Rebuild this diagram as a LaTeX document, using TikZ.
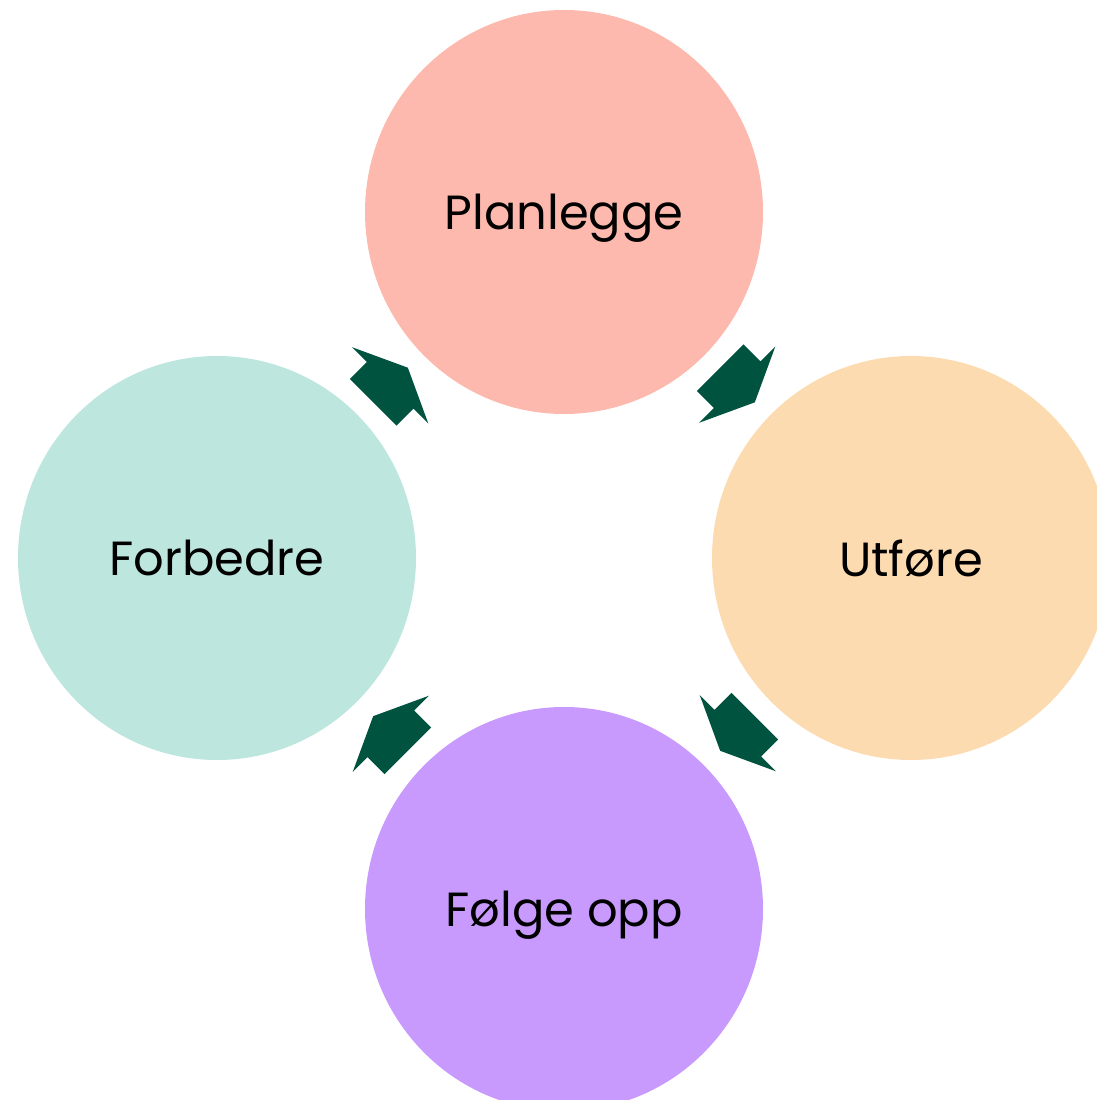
\documentclass[tikz,border=0pt]{standalone}
\usepackage{fontspec}
\setmainfont{Poppins}
\usepackage{tikz}
\usetikzlibrary{shapes.geometric, calc}

\definecolor{planpink}{HTML}{FDB9AD}
\definecolor{doorange}{HTML}{FDDBB0}
\definecolor{checkviolet}{HTML}{C99AFE}
\definecolor{actmint}{HTML}{BDE6DE}
\definecolor{arrowgreen}{HTML}{00533F}

\begin{document}
\begin{tikzpicture}[x=0.02cm, y=0.02cm]

% Define styles for the nodes
\tikzset{
  phase/.style={ellipse, fill=#1, draw=none, minimum width=398*0.02cm, minimum height=404*0.02cm, inner sep=0pt, text depth=0pt, font=\fontsize{27.3}{32}\selectfont},
  cyclearrow/.pic={\fill[arrowgreen] (-24.5,33) -- (-0.5,33) -- (-0.5,54) -- (24.5,0) -- (-0.5,-54) -- (-0.5,-33) -- (-24.5,-33) -- cycle;}
}

\useasboundingbox (0,0) rectangle (1097,1100);
\clip (0,0) rectangle (1097,1100);

% Nodes
\node (planlegge) [phase=planpink] at (564,888) {Planlegge};
\node (utfore) [phase=doorange] at (911,542) {Utføre};
\node (folge) [phase=checkviolet] at (564,191) {Følge opp};
\node (forbedre) [phase=actmint] at (217,542) {Forbedre};

% Arrows
\pic[rotate=45] at ($(forbedre)!0.5!(planlegge)$) {cyclearrow};
\pic[rotate=-45] at ($(planlegge)!0.5!(utfore)$) {cyclearrow};
\pic[rotate=-135] at ($(utfore)!0.5!(folge)$) {cyclearrow};
\pic[rotate=135] at ($(folge)!0.5!(forbedre)$) {cyclearrow};

\end{tikzpicture}
\end{document}
